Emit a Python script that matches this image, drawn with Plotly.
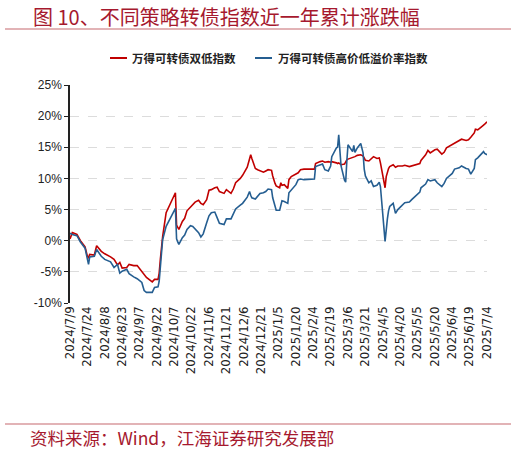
import plotly.graph_objects as go

# 万得可转债指数近一年累计涨跌幅（%），数值读自原图
dates = [
    "2024-07-09", "2024-07-11", "2024-07-15", "2024-07-18", "2024-07-22", "2024-07-24",
    "2024-07-25", "2024-07-26", "2024-07-30", "2024-08-01", "2024-08-05", "2024-08-08",
    "2024-08-13", "2024-08-16", "2024-08-19", "2024-08-21", "2024-08-23", "2024-08-27",
    "2024-08-29", "2024-09-02", "2024-09-05", "2024-09-09", "2024-09-11", "2024-09-13",
    "2024-09-18", "2024-09-20", "2024-09-23", "2024-09-24", "2024-09-25", "2024-09-26",
    "2024-09-27", "2024-09-30", "2024-10-08", "2024-10-09", "2024-10-10", "2024-10-11",
    "2024-10-14", "2024-10-16", "2024-10-18", "2024-10-21", "2024-10-23", "2024-10-25",
    "2024-10-28", "2024-10-30", "2024-11-01", "2024-11-04", "2024-11-06", "2024-11-08",
    "2024-11-11", "2024-11-13", "2024-11-15", "2024-11-19", "2024-11-21", "2024-11-25",
    "2024-11-27", "2024-11-29", "2024-12-03", "2024-12-05", "2024-12-09", "2024-12-11",
    "2024-12-12", "2024-12-13", "2024-12-16", "2024-12-18", "2024-12-20", "2024-12-23",
    "2024-12-25", "2024-12-27", "2024-12-30", "2024-12-31", "2025-01-02", "2025-01-03",
    "2025-01-06", "2025-01-07", "2025-01-08", "2025-01-10", "2025-01-13", "2025-01-14",
    "2025-01-16", "2025-01-20", "2025-01-22", "2025-01-24", "2025-01-27", "2025-02-05",
    "2025-02-06", "2025-02-10", "2025-02-12", "2025-02-14", "2025-02-17", "2025-02-19",
    "2025-02-20", "2025-02-24", "2025-02-25", "2025-02-26", "2025-02-27", "2025-02-28",
    "2025-03-03", "2025-03-04", "2025-03-05", "2025-03-06", "2025-03-10", "2025-03-11",
    "2025-03-12", "2025-03-14", "2025-03-17", "2025-03-18", "2025-03-19", "2025-03-20",
    "2025-03-21", "2025-03-24", "2025-03-26", "2025-03-28", "2025-03-31", "2025-04-02",
    "2025-04-03", "2025-04-07", "2025-04-08", "2025-04-09", "2025-04-10", "2025-04-11",
    "2025-04-14", "2025-04-16", "2025-04-18", "2025-04-22", "2025-04-24", "2025-04-28",
    "2025-04-30", "2025-05-07", "2025-05-08", "2025-05-12", "2025-05-14", "2025-05-16",
    "2025-05-20", "2025-05-22", "2025-05-26", "2025-05-28", "2025-05-30", "2025-06-04",
    "2025-06-06", "2025-06-10", "2025-06-12", "2025-06-16", "2025-06-18", "2025-06-20",
    "2025-06-23", "2025-06-24", "2025-06-26", "2025-06-30", "2025-07-01", "2025-07-02",
    "2025-07-04",
]

double_low = [
    0.3, 1.3, 1.0, 0.0, -1.0, -2.5,
    -2.7, -2.2, -2.3, -0.8, -1.7, -2.1,
    -2.6, -3.0, -3.9, -3.5, -4.4, -4.3,
    -3.8, -4.0, -4.0, -5.0, -5.5, -5.9,
    -6.6, -6.2, -6.2, -5.2, -3.0, -1.0,
    0.7, 4.5, 7.7, 2.5, 2.2, 1.8,
    3.1, 3.6, 4.8, 5.4, 5.8, 6.2,
    6.5, 6.0, 5.8, 6.6, 8.1, 8.2,
    8.5, 8.6, 7.9, 7.6, 8.2, 7.6,
    8.3, 9.3, 10.0, 10.5, 11.8, 13.0,
    13.8, 13.2, 11.6, 11.4, 11.2, 11.0,
    11.2, 11.4, 11.3, 10.4, 9.2, 8.8,
    8.5, 9.3, 8.9, 9.0, 8.4, 9.8,
    10.3, 10.7, 10.9, 11.4, 11.5, 11.5,
    12.4, 12.7, 12.8, 12.6, 12.7, 12.6,
    12.7, 12.5, 12.4, 12.5, 12.4, 12.2,
    12.3, 12.7, 13.0, 13.1, 13.3, 13.4,
    13.5, 13.7, 13.8, 13.7, 13.6, 13.3,
    12.9, 12.8, 13.2, 13.5, 13.2, 13.3,
    12.5, 8.5, 10.3, 11.2, 11.6, 11.9,
    12.2, 11.8, 12.0, 12.0, 12.1, 11.9,
    12.0, 12.4, 12.9, 13.8, 14.5, 14.1,
    14.6, 14.7, 13.9, 14.2, 14.9, 15.4,
    15.6, 16.1, 16.3, 16.1, 16.2, 16.6,
    17.3, 17.9, 17.8, 18.4, 18.5, 18.7,
    19.1,
]

high_price_low_premium = [
    1.2, 1.0, 0.8, -0.2, -1.2, -3.3,
    -3.8, -2.6, -2.5, -1.4, -2.5, -3.0,
    -3.4, -4.3, -3.8, -5.2, -4.9, -4.6,
    -5.3, -5.8, -6.1, -6.7, -8.0, -8.3,
    -8.3, -7.5, -7.4, -6.5, -3.5, -2.0,
    0.2, 2.3, 5.2, 0.3, -0.2, -0.6,
    0.5, 0.9, 1.8, 2.4, 2.3, 1.9,
    1.3, 0.6, 1.1, 2.9, 4.0, 4.5,
    4.6, 3.7, 2.8, 2.6, 3.5, 3.5,
    4.3, 5.1, 5.7, 6.0, 7.0, 7.9,
    7.3, 6.9, 6.7, 7.1, 7.6, 7.7,
    7.9, 8.3, 8.2, 6.9, 5.4, 4.9,
    4.9, 5.7, 6.4, 6.3, 6.0, 7.7,
    8.2, 9.0, 9.8, 9.9, 9.8, 9.9,
    11.9, 12.1, 12.3, 11.4, 11.2, 12.0,
    13.5, 14.9, 15.0, 17.0, 14.5, 12.0,
    9.7, 9.4, 12.8, 15.4, 14.3, 15.3,
    14.2, 14.9, 15.6, 15.0, 14.1, 11.5,
    10.4, 9.3, 9.6, 8.7, 8.9, 9.4,
    8.7, -0.1, 2.2, 3.5, 4.8, 5.5,
    6.0, 4.4, 5.0, 5.7, 6.1, 6.2,
    6.6, 7.8, 8.5, 9.1, 9.8, 9.6,
    9.8, 9.3, 8.7, 9.2, 10.0, 10.8,
    11.5, 11.7, 12.0, 11.6, 11.5, 10.7,
    11.6, 13.0, 13.3, 14.1, 14.3, 14.0,
    13.8,
]

tick_dates = [
    "2024-07-09", "2024-07-24", "2024-08-08", "2024-08-23", "2024-09-07",
    "2024-09-22", "2024-10-07", "2024-10-22", "2024-11-06", "2024-11-21",
    "2024-12-06", "2024-12-21", "2025-01-05", "2025-01-20", "2025-02-04",
    "2025-02-19", "2025-03-06", "2025-03-21", "2025-04-05", "2025-04-20",
    "2025-05-05", "2025-05-20", "2025-06-04", "2025-06-19", "2025-07-04",
]
tick_labels = [d.replace("-0", "-").replace("-", "/") for d in tick_dates]

y_ticks = [-10, -5, 0, 5, 10, 15, 20, 25]
y_labels = ["-10%", "-5%", "0%", "5%", "10%", "15%", "20%", "25%"]

series_names = ["万得可转债双低指数", "万得可转债高价低溢价率指数"]
colors = ["#C00000", "#255E91"]

title_text = "图 10、不同策略转债指数近一年累计涨跌幅"
source_text = "资料来源：Wind，江海证券研究发展部"

dark_red = "#A6192E"
rule_color = "#D89A9E"
cjk = "Noto Sans CJK SC"

# plot area in pixels: x 70..487, y 85..303
L, W, T, H = 70, 417, 85, 218


def px_x(x):
    return (x - L) / W


def px_y(y):
    return (T + H - y) / H


fig = go.Figure()
fig.add_trace(go.Scatter(x=dates, y=double_low, name=series_names[0], mode="lines",
                         line=dict(color=colors[0], width=1.6)))
fig.add_trace(go.Scatter(x=dates, y=high_price_low_premium, name=series_names[1], mode="lines",
                         line=dict(color=colors[1], width=1.6)))

x_range = [tick_dates[0], tick_dates[-1]]

fig.update_layout(
    width=516, height=454,
    margin=dict(l=L, r=516 - L - W, t=T, b=454 - T - H, autoexpand=False),
    paper_bgcolor="white", plot_bgcolor="white",
    showlegend=False,
    xaxis=dict(type="date", range=x_range, tickvals=tick_dates, ticktext=tick_labels,
               tickangle=-90, showgrid=False, showline=False, ticks="", zeroline=False,
               automargin=False,
               tickfont=dict(family="DejaVu Sans", size=11.8, color="#222222")),
    xaxis2=dict(type="date", range=x_range, overlaying="x", anchor="free", position=10 / 35,
                tickvals=tick_dates, showticklabels=False, showgrid=False,
                showline=True, linecolor="#404040", linewidth=2, automargin=False,
                ticks="outside", ticklen=4, tickcolor="#404040", tickwidth=1),
    yaxis=dict(range=[-10, 25], tickvals=y_ticks, ticktext=y_labels, automargin=False,
               showgrid=True, gridcolor="#DCDCDC", griddash="dash", gridwidth=1,
               zeroline=False, showline=True, linecolor="#222222", linewidth=1.5,
               ticks="outside", ticklen=4, tickcolor="#222222",
               tickfont=dict(family="Liberation Sans Narrow, Liberation Sans", size=12,
                             color="#222222")),
    font=dict(family=cjk),
)

# legend drawn by hand so the short line samples match the original
legend_items = [(110, 127, 130), (255, 272, 276)]
for (x0, x1, tx), name, color in zip(legend_items, series_names, colors):
    fig.add_shape(type="line", xref="paper", yref="paper",
                  x0=px_x(x0), x1=px_x(x1), y0=px_y(58), y1=px_y(58),
                  line=dict(color=color, width=2))
    fig.add_annotation(text=name, xref="paper", yref="paper",
                       x=px_x(tx), y=px_y(58), xanchor="left", yanchor="middle",
                       showarrow=False,
                       font=dict(family=cjk, size=11.5, color="#222222", weight="bold"))

fig.add_annotation(text=title_text, xref="paper", yref="paper",
                   x=px_x(31), y=px_y(16), xanchor="left", yanchor="middle",
                   showarrow=False, font=dict(family=cjk, size=20, color=dark_red))
fig.add_annotation(text=source_text, xref="paper", yref="paper",
                   x=px_x(28), y=px_y(437), xanchor="left", yanchor="middle",
                   showarrow=False, font=dict(family=cjk, size=17.5, color=dark_red))

for y_px in [29, 424]:
    fig.add_shape(type="line", xref="paper", yref="paper",
                  x0=px_x(5), x1=px_x(511), y0=px_y(y_px), y1=px_y(y_px),
                  line=dict(color=rule_color, width=1.5))

# the page's default body margin would push the chart 8px right and down
fig.write_html("out.html", config={"displayModeBar": False},
               post_script="document.body.style.margin = '0';")
